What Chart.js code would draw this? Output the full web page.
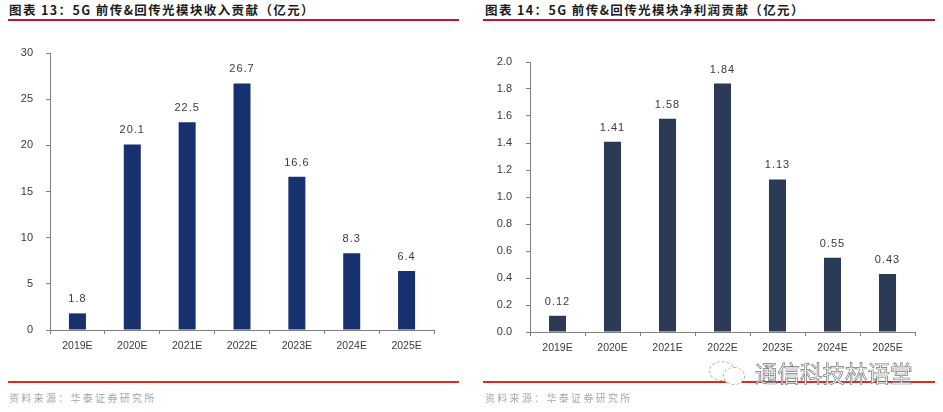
<!DOCTYPE html>
<html><head><meta charset="utf-8">
<script src="https://cdn.jsdelivr.net/npm/chart.js@4"></script>
<style>
html,body{margin:0;padding:0;background:#fff;width:943px;height:412px;overflow:hidden}
body{position:relative;font-family:"Noto Sans CJK SC",sans-serif}
canvas{position:absolute}
#wrapL,#wrapR{position:absolute;top:30px;width:470px;height:340px}
#wrapL{left:0}#wrapR{left:473px}
.title{position:absolute;top:1px;font:700 12.5px "Noto Sans CJK SC";color:#1c1c1c;letter-spacing:1.4px;line-height:18px;white-space:pre}
.rule{position:absolute;height:2px}
.src{position:absolute;top:390px;font:400 10px "Noto Sans CJK SC";color:#a8a8a8;letter-spacing:2.3px;line-height:16px}
.wm{position:absolute;left:755px;top:357px;font:400 22.5px "Noto Sans CJK SC";color:#fff;-webkit-text-stroke:.7px #777;line-height:30px;white-space:pre}
.oval{position:absolute;border:1px dashed #aaa;border-radius:50%;background:#fff}
</style></head><body>
<div class="title" style="left:9px">图表 13：5G 前传&amp;回传光模块收入贡献（亿元）</div>
<div class="rule" style="left:8px;width:451px;top:19px;background:#c8102e"></div>
<div class="title" style="left:485px">图表 14：5G 前传&amp;回传光模块净利润贡献（亿元）</div>
<div class="rule" style="left:483px;width:452px;top:19px;background:#c8102e"></div>
<div id="wrapL"><canvas id="left"></canvas></div>
<div id="wrapR"><canvas id="right"></canvas></div>
<div class="rule" style="left:8px;width:451px;top:381px;background:#e02a20"></div>
<div class="rule" style="left:483px;width:452px;top:381px;background:#e02a20"></div>
<div class="src" style="left:9px">资料来源：华泰证券研究所</div>
<div class="src" style="left:485px">资料来源：华泰证券研究所</div>
<div class="oval" style="left:709px;top:361px;width:24px;height:18px"></div>
<div class="oval" style="left:723px;top:367px;width:20px;height:16px"></div>
<div class="wm">通信科技林语堂</div>
<script>
const categories = ['2019E','2020E','2021E','2022E','2023E','2024E','2025E'];
const revenue = [1.8,20.1,22.5,26.7,16.6,8.3,6.4];
const revenueLabels = ['1.8','20.1','22.5','26.7','16.6','8.3','6.4'];
const profit = [0.12,1.41,1.58,1.84,1.13,0.55,0.43];
const profitLabels = ['0.12','1.41','1.58','1.84','1.13','0.55','0.43'];
const FONT = '"Liberation Sans"';
const TEXT = '#3a3a3a', AXIS = '#7f7f7f';

const valueLabels = {
  id:'valueLabels',
  afterDatasetsDraw(chart, args, opts){
    const {ctx} = chart, meta = chart.getDatasetMeta(0);
    ctx.save();
    ctx.font = '11px '+FONT; ctx.fillStyle = TEXT;
    ctx.textAlign='center'; ctx.textBaseline='alphabetic';
    try{ctx.letterSpacing='1px';}catch(e){}
    meta.data.forEach((b,i)=>ctx.fillText(opts.labels[i], b.x, b.y-11));
    ctx.restore();
  }
};

function make(id, values, labels, color, max, step, digits, yWidth, top, padRight, padBottom, tickPad){
  new Chart(document.getElementById(id),{
    type:'bar',
    data:{labels:categories,datasets:[{data:values,backgroundColor:color,barPercentage:0.31,categoryPercentage:1}]},
    plugins:[valueLabels],
    options:{
      responsive:true,maintainAspectRatio:false,animation:false,
      layout:{padding:{left:0,right:padRight,top:top,bottom:padBottom}},
      plugins:{legend:{display:false},tooltip:{enabled:false},valueLabels:{labels}},
      scales:{
        x:{
          grid:{drawOnChartArea:false,drawTicks:true,tickLength:4,color:AXIS},
          border:{color:AXIS,width:1},
          ticks:{color:TEXT,font:{family:FONT,size:10.5},padding:6,maxRotation:0,autoSkip:false},
          afterFit(s){s.height=30;}
        },
        y:{
          min:0,max:max,
          grid:{drawOnChartArea:false,drawTicks:true,tickLength:4,color:AXIS},
          border:{color:AXIS,width:1},
          ticks:{stepSize:step,color:TEXT,font:{family:FONT,size:11},padding:tickPad,
            callback:v=>Number(v).toFixed(digits)},
          afterFit(s){s.width=yWidth;}
        }
      }
    }
  });
}
make('left',revenue,revenueLabels,'#17306e',30,5,0,50,23,36,10,13);
make('right',profit,profitLabels,'#2b3a55',2,0.2,1,57,32,28,8,14);
</script>
</body></html>
